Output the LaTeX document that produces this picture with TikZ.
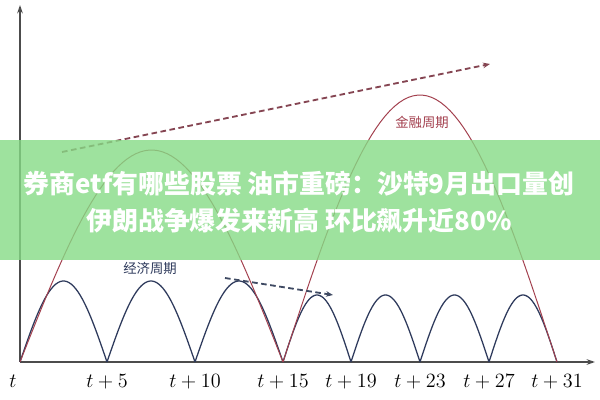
\documentclass[tikz,border=0pt]{standalone}
\usepackage{fontspec}
\newfontfamily\cjk{Noto Sans CJK SC}
\usetikzlibrary{arrows.meta}

\definecolor{econNavy}{HTML}{2E3A5C}
\definecolor{finRed}{HTML}{A3404E}
\definecolor{trendRed}{HTML}{854552}
\definecolor{trendGray}{HTML}{3F4A63}
\definecolor{bannerGreen}{HTML}{86DB86}

\tikzstyle{axis} = [line width=1.2pt, draw=black!70, -{Stealth[length=6pt,width=4pt]}]
\tikzstyle{econArc} = [line width=0.9pt, draw=econNavy]
\tikzstyle{finArc} = [line width=0.7pt, draw=finRed]
\tikzstyle{trend} = [line width=1.3pt, dash pattern=on 4pt off 2.5pt, -{Stealth[length=5pt,width=4pt]}]
\tikzstyle{tickLabel} = [anchor=center, font=\fontsize{14.5}{16}\selectfont]
\tikzstyle{cycleLabel} = [anchor=center, font=\cjk\fontsize{9.5}{11}\selectfont]
\tikzstyle{banner} = [align=center, text=white, font=\cjk\bfseries\fontsize{18.4}{26.5}\selectfont]

\begin{document}
\begin{tikzpicture}[x=0.025cm, y=-0.025cm]
    \fill[white] (0,0) rectangle (600,400);
    \useasboundingbox (0,0) rectangle (600,400);

    % axes
    \coordinate (origin) at (20,362);
    \coordinate (ytop) at (20,5);
    \coordinate (xend) at (595,362);
    \draw [axis] (origin) -- (ytop);
    \draw [axis] (origin) -- (xend);

    % economic cycle
    \foreach \a/\b/\h in {20/107/81, 107/195/81, 195/283/81, 283/351/67, 351/420/67, 420/489/67, 489/557/67}
        \draw [econArc] plot[domain=\a:\b, samples=40] (\x, {362-\h*sin(180/(\b-\a)*(\x-\a))});

    % financial cycle
    \foreach \a/\b/\h in {20/283/212, 283/557/267}
        \draw [finArc] plot[domain=\a:\b, samples=60] (\x, {362-\h*sin(180/(\b-\a)*(\x-\a))});

    % trends
    \coordinate (upStart) at (62,152);
    \coordinate (upEnd) at (490,64);
    \coordinate (downStart) at (225,278);
    \coordinate (downEnd) at (333,295);
    \draw [trend, draw=trendRed] (upStart) -- (upEnd);
    \draw [trend, draw=trendGray] (downStart) -- (downEnd);

    \node (finLabel)[cycleLabel, text=finRed] at (422,122) {金融周期};
    \node (econLabel)[cycleLabel, text=econNavy] at (150,268) {经济周期};

    % time ticks
    \node (t0)[tickLabel] at (13,381) {$t$};
    \foreach \x/\n in {107/5, 195/10, 283/15, 351/19, 420/23, 489/27, 557/31}
        \node (t\n)[tickLabel] at (\x,382) {$t+\n$};

    % overlay banner
    \fill[bannerGreen, opacity=0.8] (0,140) rectangle (600,260);
    \node (headline)[banner] at (299,202) {券商etf有哪些股票 油市重磅：沙特9月出口量创\\伊朗战争爆发来新高 环比飙升近80\%};
\end{tikzpicture}
\end{document}
